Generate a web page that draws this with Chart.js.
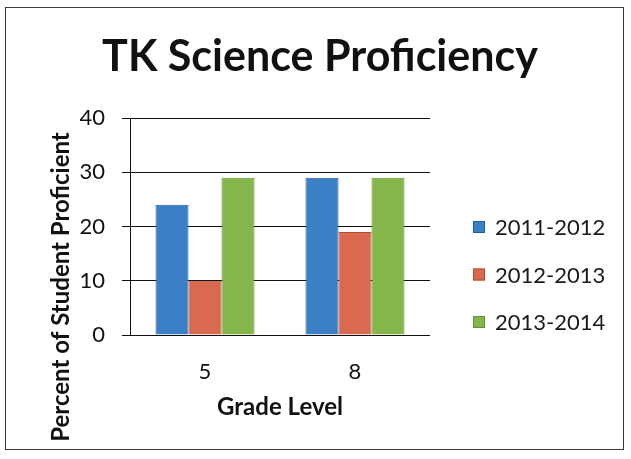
<!DOCTYPE html>
<html>
<head>
<meta charset="utf-8">
<script src="https://cdn.jsdelivr.net/npm/chart.js@4/dist/chart.umd.min.js"></script>
<style>
  html, body { margin: 0; padding: 0; background: #fff; }
  #wrap { position: relative; width: 631px; height: 459px; }
  #frame { position: absolute; left: 5px; top: 7px; width: 619px; height: 443px; border: 1.5px solid #3a3a3a; box-sizing: border-box; pointer-events: none; }
  canvas { position: absolute; left: 0; top: 0; }
</style>
</head>
<body>
<div id="wrap">
  <canvas id="c" width="631" height="459"></canvas>
  <div id="frame"></div>
</div>
<script>
const titleText = "TK Science Proficiency";
const categories = ["5", "8"];
const seriesNames = ["2011-2012", "2012-2013", "2013-2014"];
const values2011 = [24, 29];
const values2012 = [10, 19];
const values2013 = [29, 29];
const yTicks = [0, 10, 20, 30, 40];
const xAxisTitle = "Grade Level";
const yAxisTitle = "Percent of Student Proficient";

const fills = ["#3b7fc6", "#d96a50", "#84b64b"];
const edges = ["#215fa5", "#b84a33", "#5e9430"];
const FONT = "Lato, 'Open Sans', sans-serif";

const legendPlugin = {
  id: 'sideLegend',
  afterDraw(chart) {
    const ctx = chart.ctx;
    ctx.save();
    chart.data.datasets.forEach((ds, i) => {
      const cy = 227 + i * 47.5;
      ctx.fillStyle = ds.backgroundColor;
      ctx.strokeStyle = ds.borderColor;
      ctx.lineWidth = 1;
      ctx.fillRect(473, cy - 6, 12, 12);
      ctx.strokeRect(473.5, cy - 5.5, 11, 11);
      ctx.fillStyle = "#1a1a1a";
      ctx.font = "22px " + FONT;
      ctx.textBaseline = "middle";
      ctx.textAlign = "left";
      ctx.fillText(ds.label, 495, cy + 1);
    });
    ctx.restore();
  }
};

const yTitlePlugin = {
  id: 'yTitle',
  afterDraw(chart) {
    const ctx = chart.ctx;
    ctx.save();
    ctx.translate(61, 287);
    ctx.rotate(-Math.PI / 2);
    ctx.fillStyle = "#111";
    ctx.font = "bold 24px " + FONT;
    ctx.textAlign = "center";
    ctx.textBaseline = "middle";
    ctx.fillText(yAxisTitle, 0, 0);
    ctx.restore();
  }
};

const datasets = [values2011, values2012, values2013].map((vals, i) => ({
  label: seriesNames[i],
  data: vals,
  backgroundColor: fills[i],
  borderColor: edges[i],
  borderWidth: 1,
  categoryPercentage: 0.66,
  barPercentage: 1.0
}));

new Chart(document.getElementById('c'), {
  type: 'bar',
  data: { labels: categories, datasets },
  plugins: [legendPlugin, yTitlePlugin],
  options: {
    responsive: false,
    animation: false,
    devicePixelRatio: 1,
    layout: { padding: { left: 9, right: 0, top: 0, bottom: 0 } },
    plugins: {
      legend: { display: false },
      tooltip: { enabled: false },
      title: {
        display: true,
        text: titleText,
        color: "#111",
        font: { family: FONT, size: 43, weight: 'bold' },
        padding: { top: 31, bottom: 35.4 }
      }
    },
    scales: {
      x: {
        afterFit(s) { s.height = 124; },
        grid: { display: false, drawTicks: false },
        border: { display: false },
        ticks: { color: "#111", font: { family: FONT, size: 22 }, padding: 24 },
        title: { display: true, text: xAxisTitle, color: "#111", font: { family: FONT, size: 24, weight: 'bold' }, padding: { top: 0, bottom: 37 } }
      },
      y: {
        min: 0, max: 40,
        afterFit(s) { s.width = 121; },
        afterBuildTicks(s) { s.ticks = yTicks.map(v => ({ value: v })); },
        grid: { color: "#111", lineWidth: 1, tickLength: 8, drawTicks: true },
        border: { display: true, color: "#111", width: 1 },
        ticks: { color: "#111", font: { family: FONT, size: 22 }, padding: 17 },
        title: { display: false }
      },
      side: {
        position: 'right',
        display: true,
        afterFit(s) { s.width = 201; },
        grid: { display: false, drawTicks: false },
        border: { display: false },
        ticks: { display: false }
      }
    }
  }
});
</script>
</body>
</html>
